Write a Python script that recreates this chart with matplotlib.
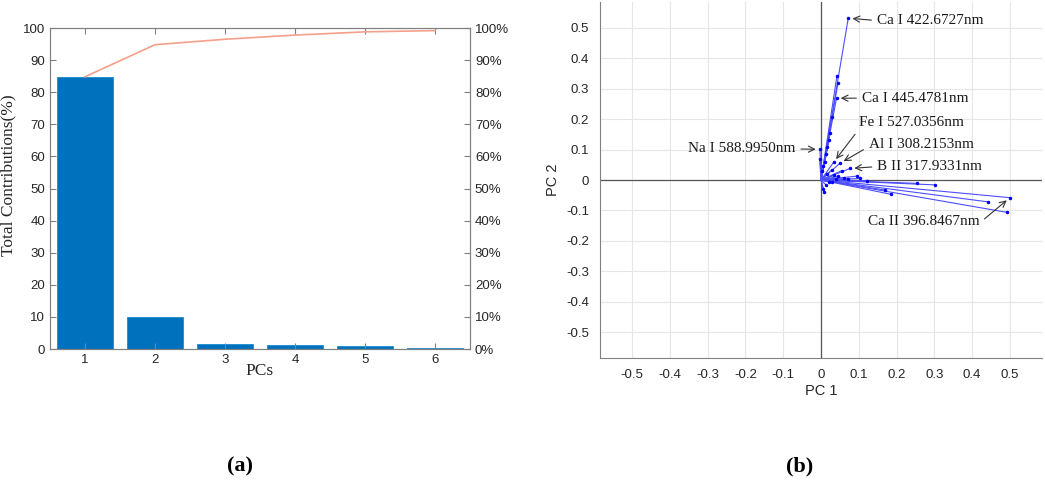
import matplotlib
matplotlib.use("Agg")
import matplotlib.pyplot as plt
import numpy as np

# (a) Pareto of PC contributions
pcs = [1, 2, 3, 4, 5, 6]
contrib = [84.8, 10.0, 1.7, 1.3, 1.0, 0.4]
pct_labels = ["0%", "10%", "20%", "30%", "40%", "50%", "60%", "70%", "80%", "90%", "100%"]

# (b) biplot loadings
pc1 = [0.072, 0.042, 0.045, 0.041, 0.028, 0.024, 0.021, 0.017, 0.013, -0.003,
       0.033, 0.050, 0.077, 0.055, 0.028, 0.096, 0.103, 0.121, 0.253, 0.302,
       0.169, 0.185, 0.500, 0.443, 0.491, 0.008, 0.006, 0.010, 0.005, -0.004,
       0.002, 0.015, 0.035, 0.060, 0.040, 0.020, 0.012, 0.030, 0.045, 0.070]
pc2 = [0.532, 0.342, 0.320, 0.269, 0.208, 0.154, 0.130, 0.110, 0.085, 0.101,
       0.058, 0.055, 0.038, 0.031, 0.033, 0.013, 0.005, -0.002, -0.011, -0.016,
       -0.033, -0.047, -0.058, -0.072, -0.106, -0.038, -0.030, 0.060, 0.045, 0.070,
       0.030, 0.020, 0.015, 0.008, 0.002, -0.005, -0.015, -0.008, 0.012, 0.003]

# label, vector index, text position, ha, relpos
notes = [
    ("Ca I 422.6727nm", 0, (0.148, 0.524), "left", (0.0, 0.5)),
    ("Ca I 445.4781nm", 3, (0.108, 0.269), "left", (0.0, 0.5)),
    ("Fe I 527.0356nm", 10, (0.100, 0.188), "left", (0.0, 0.0)),
    ("Al I 308.2153nm", 11, (0.126, 0.118), "left", (0.0, 0.3)),
    ("B II 317.9331nm", 12, (0.149, 0.044), "left", (0.0, 0.5)),
    ("Na I 588.9950nm", 9, (-0.068, 0.102), "right", (1.0, 0.5)),
    ("Ca II 396.8467nm", 22, (0.124, -0.137), "left", (1.0, 0.4)),
]

sans = ["Liberation Sans", "DejaVu Sans"]
serif = ["Liberation Serif", "DejaVu Serif"]
plt.rcParams["font.family"] = sans
tick_col = "#262626"
spine_col = "#808080"

fig = plt.figure(figsize=(10.45, 4.83), dpi=100)

# ---- panel (a)
ax = fig.add_axes([0.0478, 0.2774, 0.402, 0.6646])
ax.bar(pcs, contrib, width=0.8, color="#0072BD", edgecolor="#1a8ad0", linewidth=0.6)
ax.set_xlim(0.5, 6.5)
ax.set_ylim(0, 100)
ax.set_yticks(np.arange(0, 101, 10))
ax.set_xticks(pcs)
ax.tick_params(direction="in", length=4, labelsize=9.5, colors=spine_col, labelcolor=tick_col,
               top=True)
ax.set_ylabel("Total Contributions(%)", family=serif, fontsize=12.5, color=tick_col)
ax.yaxis.set_label_coords(-0.1, 0.54)
ax.yaxis.label.set_va("center")
ax.set_xlabel("PCs", family=serif, fontsize=12.5, color=tick_col, labelpad=-2)
for s in ax.spines.values():
    s.set_color(spine_col)

ax2 = ax.twinx()
ax2.plot(pcs, np.cumsum(contrib), color="#F5A08A", linewidth=1.2)
ax2.set_ylim(0, 100)
ax2.set_yticks(np.arange(0, 101, 10))
ax2.set_yticklabels(pct_labels)
ax2.tick_params(direction="in", length=4, labelsize=9.5, colors=spine_col, labelcolor=tick_col)
for s in ax2.spines.values():
    s.set_color(spine_col)

# ---- panel (b)
bx = fig.add_axes([0.5742, 0.2588, 0.423, 0.737])
bx.set_xlim(-0.585, 0.585)
bx.set_ylim(-0.585, 0.585)
ticks = np.round(np.arange(-0.5, 0.51, 0.1), 1)
tick_lbls = ["0" if t == 0 else f"{t:g}" for t in ticks]
bx.set_xticks(ticks)
bx.set_xticklabels(tick_lbls)
bx.set_yticks(ticks)
bx.set_yticklabels(tick_lbls)
bx.grid(True, color="#e6e6e6", linewidth=0.8)
bx.set_axisbelow(True)
bx.axhline(0, color="#555555", linewidth=0.9)
bx.axvline(0, color="#555555", linewidth=0.9)
for x, y in zip(pc1, pc2):
    bx.plot([0, x], [0, y], color="#4d4dff", linewidth=0.8)
bx.plot(pc1, pc2, ".", color="#0000ff", markersize=3)
bx.spines["top"].set_visible(False)
bx.spines["right"].set_visible(False)
bx.spines["left"].set_color(spine_col)
bx.spines["bottom"].set_color(spine_col)
bx.tick_params(length=0, labelsize=9.5, labelcolor=tick_col, pad=8)
bx.set_xlabel("PC 1", fontsize=10.5, color=tick_col, labelpad=2)
bx.set_ylabel("PC 2", fontsize=10.5, color=tick_col, labelpad=4)

for label, i, pos, ha, rel in notes:
    bx.annotate(label, xy=(pc1[i], pc2[i]), xytext=pos, textcoords="data",
                ha=ha, va="center", family=serif, fontsize=11, color="#1a1a1a",
                arrowprops=dict(arrowstyle="->", color="#333333", lw=0.8,
                                relpos=rel, shrinkA=2, shrinkB=3))

fig.text(240 / 1045, 1 - 466 / 483, "(a)", family=serif, fontsize=16, fontweight="bold",
         ha="center", va="center")
fig.text(800 / 1045, 1 - 466 / 483, "(b)", family=serif, fontsize=16, fontweight="bold",
         ha="center", va="center")

fig.savefig("out.png", dpi=100)
